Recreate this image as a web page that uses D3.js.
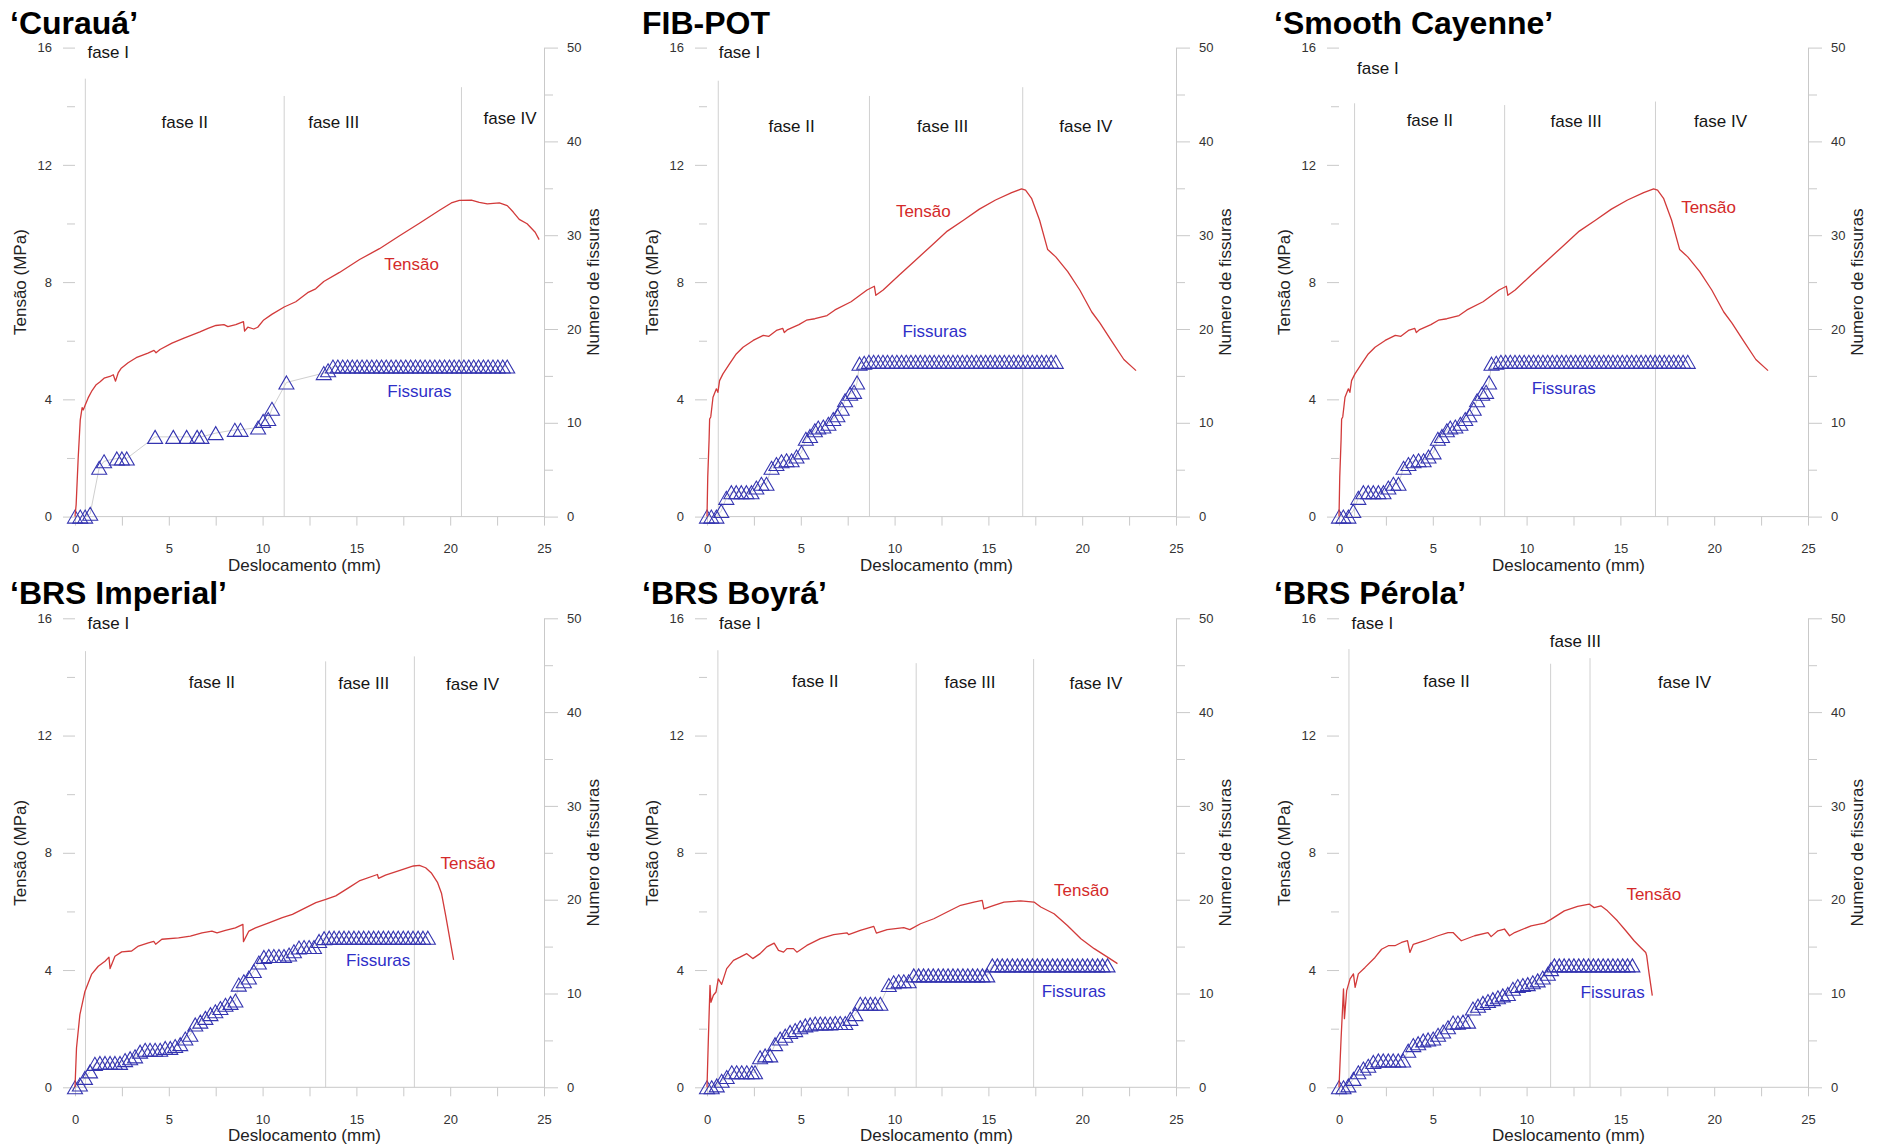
<!DOCTYPE html>
<html><head><meta charset="utf-8">
<script src="https://cdn.jsdelivr.net/npm/d3@7"></script>
<style>
body{margin:0;background:#fff;}
svg{display:block;font-family:"Liberation Sans",Arial,Helvetica,sans-serif;}
</style>
</head><body>
<svg id="chart" width="1881" height="1148"></svg>
<script>
// ---------------- DATA ----------------
const panelTitles = ["\u2018Curau\u00e1\u2019", "FIB-POT", "\u2018Smooth Cayenne\u2019",
                     "\u2018BRS Imperial\u2019", "\u2018BRS Boyr\u00e1\u2019", "\u2018BRS P\u00e9rola\u2019"];
const xTicks = [0, 5, 10, 15, 20, 25];
const xMinorTicks = [2.5, 7.5, 12.5, 17.5, 22.5];
const leftTicks = [0, 4, 8, 12, 16];
const leftMinorTicks = [2, 6, 10, 14];
const rightTicks = [0, 10, 20, 30, 40, 50];
const rightMinorTicks = [5, 15, 25, 35, 45];
const phaseNames = ["fase I", "fase II", "fase III", "fase IV"];
const xTitle = "Deslocamento (mm)";
const yLeftTitle = "Tens\u00e3o (MPa)";
const yRightTitle = "Numero de fissuras";
const tensaoLabel = "Tens\u00e3o";
const fissurasLabel = "Fissuras";

// Tensão curves: [deslocamento mm, tensão MPa]
const tensaoCuraua = [[0,0],[0.06,0.4],[0.17,2.0],[0.28,3.3],[0.38,3.72],[0.44,3.64],[0.54,3.8],[0.7,4.05],[0.91,4.3],[1.13,4.5],[1.34,4.6],[1.55,4.72],[1.86,4.78],[2.04,4.84],[2.16,4.62],[2.3,4.9],[2.45,5.05],[2.83,5.25],[3.26,5.42],[3.89,5.58],[4.21,5.67],[4.32,5.59],[4.53,5.7],[5.17,5.92],[5.81,6.09],[6.66,6.3],[7.09,6.42],[7.51,6.52],[7.94,6.55],[8.15,6.48],[8.57,6.55],[8.98,6.65],[9.04,6.33],[9.21,6.46],[9.53,6.4],[9.74,6.46],[10.06,6.71],[10.49,6.9],[11.15,7.15],[11.77,7.33],[12.4,7.64],[12.83,7.77],[13.26,8.02],[14.1,8.33],[15.17,8.77],[16.23,9.14],[17.3,9.58],[18.36,10.01],[19.43,10.45],[20.06,10.7],[20.49,10.79],[21.13,10.8],[21.55,10.72],[21.98,10.67],[22.62,10.7],[23.04,10.61],[23.36,10.39],[23.68,10.14],[24.1,9.99],[24.53,9.7],[24.74,9.45]];
const tensaoFibPot = [[0,0],[0.04,1.35],[0.11,2.6],[0.14,3.33],[0.2,3.4],[0.32,4.07],[0.5,4.36],[0.58,4.24],[0.67,4.64],[0.85,4.87],[1.2,5.21],[1.56,5.55],[1.92,5.78],[2.46,6.01],[3.0,6.18],[3.3,6.15],[3.7,6.35],[4.04,6.42],[4.12,6.28],[4.3,6.38],[4.9,6.55],[5.3,6.7],[5.75,6.75],[6.4,6.86],[6.82,7.05],[7.68,7.33],[8.53,7.73],[8.92,7.86],[9.0,7.55],[9.39,7.73],[10.25,8.24],[11.1,8.74],[11.96,9.24],[12.81,9.74],[13.67,10.11],[14.52,10.49],[15.38,10.8],[16.24,11.05],[16.77,11.18],[16.98,11.14],[17.3,10.86],[17.73,10.11],[18.16,9.11],[18.59,8.86],[19.23,8.36],[19.87,7.73],[20.51,6.98],[20.94,6.61],[21.58,5.98],[22.22,5.36],[22.87,4.98]];
const tensaoSmooth = [[0,0],[0.04,1.35],[0.11,2.6],[0.14,3.33],[0.2,3.4],[0.32,4.07],[0.5,4.36],[0.58,4.24],[0.67,4.64],[0.85,4.87],[1.2,5.21],[1.56,5.55],[1.92,5.78],[2.46,6.01],[3.0,6.18],[3.3,6.15],[3.7,6.35],[4.04,6.42],[4.12,6.28],[4.3,6.38],[4.9,6.55],[5.3,6.7],[5.75,6.75],[6.4,6.86],[6.82,7.05],[7.68,7.33],[8.53,7.73],[8.92,7.86],[9.0,7.55],[9.39,7.73],[10.25,8.24],[11.1,8.74],[11.96,9.24],[12.81,9.74],[13.67,10.11],[14.52,10.49],[15.38,10.8],[16.24,11.05],[16.77,11.18],[16.98,11.14],[17.3,10.86],[17.73,10.11],[18.16,9.11],[18.59,8.86],[19.23,8.36],[19.87,7.73],[20.51,6.98],[20.94,6.61],[21.58,5.98],[22.22,5.36],[22.87,4.98]];
const tensaoImperial = [[0,0],[0.08,1.34],[0.26,2.48],[0.53,3.27],[0.88,3.85],[1.24,4.13],[1.6,4.3],[1.81,4.44],[1.87,4.05],[2.13,4.47],[2.49,4.62],[3.02,4.65],[3.38,4.82],[3.91,4.93],[4.2,4.98],[4.3,4.88],[4.63,5.05],[5.52,5.1],[6.15,5.16],[6.77,5.27],[7.3,5.33],[7.57,5.27],[8.02,5.35],[8.55,5.44],[8.95,5.56],[8.98,4.97],[9.27,5.33],[9.62,5.44],[10.33,5.61],[11.05,5.79],[11.59,5.9],[12.12,6.07],[12.84,6.3],[13.37,6.41],[13.9,6.53],[14.62,6.82],[15.15,7.04],[16.12,7.26],[16.18,7.13],[16.55,7.24],[17.4,7.42],[18.04,7.55],[18.36,7.57],[18.69,7.49],[19.01,7.3],[19.33,6.98],[19.54,6.61],[19.76,5.86],[19.97,5.1],[20.18,4.35]];
const tensaoBoyra = [[0,0],[0.07,1.6],[0.16,3.48],[0.21,2.9],[0.34,3.14],[0.48,3.25],[0.6,3.7],[0.78,3.51],[1.05,4.05],[1.41,4.33],[1.76,4.44],[2.12,4.56],[2.44,4.39],[2.83,4.56],[3.19,4.79],[3.58,4.92],[3.81,4.67],[4.08,4.61],[4.26,4.73],[4.61,4.73],[4.79,4.61],[5.32,4.84],[6.04,5.07],[6.75,5.21],[7.46,5.27],[7.55,5.21],[8.17,5.35],[8.89,5.49],[9.03,5.26],[9.6,5.38],[10.49,5.45],[10.81,5.38],[11.38,5.58],[12.09,5.75],[12.8,5.98],[13.52,6.21],[14.23,6.32],[14.67,6.38],[14.76,6.09],[15.3,6.21],[15.83,6.32],[16.72,6.36],[17.43,6.32],[17.79,6.15],[18.5,5.92],[19.21,5.52],[19.93,5.07],[20.64,4.73],[21.35,4.44],[21.88,4.22]];
const tensaoPerola = [[0,0],[0.11,1.65],[0.24,3.36],[0.29,2.34],[0.41,3.3],[0.59,3.7],[0.77,3.87],[0.86,3.41],[1.03,3.87],[1.39,4.09],[1.92,4.43],[2.27,4.71],[2.63,4.83],[2.98,4.83],[3.33,4.94],[3.65,5.0],[3.78,4.6],[3.96,4.88],[4.57,5.0],[5.28,5.17],[5.81,5.28],[6.08,5.28],[6.34,5.11],[6.52,5.0],[7.23,5.17],[7.94,5.28],[8.11,5.14],[8.47,5.34],[8.82,5.4],[9.09,5.17],[9.36,5.28],[10.24,5.51],[10.95,5.6],[11.3,5.73],[12.01,6.02],[12.72,6.17],[13.34,6.25],[13.6,6.13],[13.96,6.19],[14.31,6.02],[14.84,5.68],[15.29,5.34],[15.73,5.0],[16.08,4.77],[16.35,4.6],[16.4,4.49],[16.52,3.92],[16.7,3.13]];

// Fissuras: [deslocamento mm, número de fissuras]
const fissurasCuraua = [[0,0],[0.28,0],[0.54,0],[0.81,0.3],[1.29,5.2],[1.55,5.9],[2.23,6.2],[2.5,6.2],[2.76,6.2],[4.27,8.5],[5.24,8.5],[5.95,8.5],[6.51,8.5],[6.74,8.5],[7.5,8.9],[8.52,9.25],[8.82,9.25],[9.76,9.5],[10.03,10.2],[10.3,10.4],[10.5,11.5],[11.27,14.3],[13.26,15.3],[13.49,15.6],
 [13.75,16],[14.01,16],[14.27,16],[14.53,16],[14.78,16],[15.04,16],[15.30,16],[15.56,16],[15.82,16],[16.08,16],[16.34,16],[16.59,16],[16.85,16],[17.11,16],[17.37,16],[17.63,16],[17.89,16],[18.15,16],[18.40,16],[18.66,16],[18.92,16],[19.18,16],[19.44,16],[19.70,16],[19.96,16],[20.21,16],[20.47,16],[20.73,16],[20.99,16],[21.25,16],[21.51,16],[21.77,16],[22.02,16],[22.28,16],[22.54,16],[22.80,16],[23.04,16]];
const fissurasFibPot = [[0,0],[0.23,0],[0.5,0],[0.76,0.6],[1.03,2.0],[1.3,2.6],[1.56,2.6],[1.83,2.6],[2.1,2.6],[2.37,2.6],[2.63,3.1],[2.9,3.5],[3.17,3.5],[3.44,5.2],[3.7,5.6],[3.97,5.9],[4.24,6.0],[4.51,6.0],[4.77,6.4],[5.04,6.85],[5.27,8.3],[5.49,8.6],[5.75,9.2],[5.93,9.5],[6.2,9.6],[6.47,9.9],[6.73,10.4],[6.95,10.8],[7.18,11.5],[7.36,12.4],[7.63,13.1],[7.84,13.3],[8.0,14.3],
 [8.13,16.3],[8.38,16.4],[8.63,16.5],[8.88,16.5],[9.13,16.5],[9.38,16.5],[9.62,16.5],[9.87,16.5],[10.12,16.5],[10.37,16.5],[10.62,16.5],[10.87,16.5],[11.12,16.5],[11.37,16.5],[11.62,16.5],[11.87,16.5],[12.11,16.5],[12.36,16.5],[12.61,16.5],[12.86,16.5],[13.11,16.5],[13.36,16.5],[13.61,16.5],[13.86,16.5],[14.11,16.5],[14.36,16.5],[14.60,16.5],[14.85,16.5],[15.10,16.5],[15.35,16.5],[15.60,16.5],[15.85,16.5],[16.10,16.5],[16.35,16.5],[16.60,16.5],[16.85,16.5],[17.09,16.5],[17.34,16.5],[17.59,16.5],[17.84,16.5],[18.09,16.5],[18.34,16.5],[18.59,16.5]];
const fissurasSmooth = [[0,0],[0.23,0],[0.5,0],[0.76,0.6],[1.03,2.0],[1.3,2.6],[1.56,2.6],[1.83,2.6],[2.1,2.6],[2.37,2.6],[2.63,3.1],[2.9,3.5],[3.17,3.5],[3.44,5.2],[3.7,5.6],[3.97,5.9],[4.24,6.0],[4.51,6.0],[4.77,6.4],[5.04,6.85],[5.27,8.3],[5.49,8.6],[5.75,9.2],[5.93,9.5],[6.2,9.6],[6.47,9.9],[6.73,10.4],[6.95,10.8],[7.18,11.5],[7.36,12.4],[7.63,13.1],[7.84,13.3],[8.0,14.3],
 [8.13,16.3],[8.38,16.4],[8.63,16.5],[8.88,16.5],[9.13,16.5],[9.38,16.5],[9.62,16.5],[9.87,16.5],[10.12,16.5],[10.37,16.5],[10.62,16.5],[10.87,16.5],[11.12,16.5],[11.37,16.5],[11.62,16.5],[11.87,16.5],[12.11,16.5],[12.36,16.5],[12.61,16.5],[12.86,16.5],[13.11,16.5],[13.36,16.5],[13.61,16.5],[13.86,16.5],[14.11,16.5],[14.36,16.5],[14.60,16.5],[14.85,16.5],[15.10,16.5],[15.35,16.5],[15.60,16.5],[15.85,16.5],[16.10,16.5],[16.35,16.5],[16.60,16.5],[16.85,16.5],[17.09,16.5],[17.34,16.5],[17.59,16.5],[17.84,16.5],[18.09,16.5],[18.34,16.5],[18.59,16.5]];
const fissurasImperial = [[0,0],[0.26,0.3],[0.53,1.0],[0.8,1.7],[1.06,2.5],[1.33,2.6],[1.6,2.6],[1.87,2.6],[2.13,2.6],[2.4,2.6],[2.67,2.9],[2.94,3.1],[3.2,3.3],[3.47,3.8],[3.74,4.0],[4.0,4.0],[4.27,4.0],[4.54,4.0],[4.81,4.2],[5.08,4.2],[5.34,4.4],[5.61,4.6],[5.88,5.2],[6.15,5.6],[6.41,6.7],[6.68,7.0],[6.95,7.4],[7.22,7.8],[7.48,8.1],[7.75,8.45],[8.02,8.8],[8.29,9.0],[8.55,9.25],[8.73,10.95],[9.0,11.3],[9.27,11.7],[9.53,12.4],[9.8,13.3],[10.07,13.9],[10.33,14.0],[10.6,14.0],[10.87,14.0],[11.14,14.0],[11.41,14.15],[11.67,14.5],[11.94,14.9],[12.21,14.95],[12.48,14.95],[12.74,14.95],[13.01,15.6],[13.28,15.9],
 [13.55,15.95],[13.81,15.95],[14.08,15.95],[14.34,15.95],[14.60,15.95],[14.87,15.95],[15.13,15.95],[15.39,15.95],[15.66,15.95],[15.92,15.95],[16.18,15.95],[16.44,15.95],[16.71,15.95],[16.97,15.95],[17.23,15.95],[17.50,15.95],[17.76,15.95],[18.02,15.95],[18.29,15.95],[18.55,15.95],[18.81,15.95]];
const fissurasBoyra = [[0,0],[0.25,0],[0.52,0.2],[0.78,0.7],[1.05,1.1],[1.32,1.6],[1.58,1.6],[1.85,1.6],[2.12,1.6],[2.39,1.6],[2.56,1.6],[2.83,3.2],[3.1,3.4],[3.37,3.4],[3.63,4.6],[3.9,5.2],[4.17,5.5],[4.43,5.9],[4.7,6.1],[4.97,6.4],[5.24,6.6],[5.5,6.7],[5.77,6.8],[6.04,6.8],[6.3,6.8],[6.57,6.8],[6.84,6.85],[7.1,6.85],[7.37,6.85],[7.64,7.3],[7.91,7.8],[8.17,8.9],[8.44,8.9],[8.71,8.9],[8.97,8.9],[9.24,8.9],[9.69,10.9],[9.95,11.2],[10.22,11.3],[10.49,11.3],[10.75,11.3],
 [11.02,11.93],[11.28,11.93],[11.54,11.93],[11.80,11.93],[12.06,11.93],[12.33,11.93],[12.59,11.93],[12.85,11.93],[13.11,11.93],[13.37,11.93],[13.64,11.93],[13.90,11.93],[14.16,11.93],[14.42,11.93],[14.68,11.93],[14.94,11.93],
 [15.21,13],[15.48,13],[15.74,13],[16.01,13],[16.28,13],[16.55,13],[16.81,13],[17.08,13],[17.35,13],[17.61,13],[17.88,13],[18.15,13],[18.42,13],[18.68,13],[18.95,13],[19.22,13],[19.48,13],[19.75,13],[20.02,13],[20.28,13],[20.55,13],[20.82,13],[21.08,13],[21.35,13]];
const fissurasPerola = [[0,0],[0.24,0],[0.5,0.2],[0.77,0.9],[1.03,1.6],[1.3,2.0],[1.56,2.3],[1.83,2.7],[2.1,2.86],[2.36,2.86],[2.63,2.86],[2.89,2.86],[3.16,2.86],[3.42,2.86],[3.69,3.9],[3.96,4.5],[4.22,4.7],[4.49,5.0],[4.75,5.1],[5.02,5.2],[5.28,5.6],[5.55,5.95],[5.81,6.4],[6.08,6.9],[6.34,6.9],[6.61,7.0],[6.88,7.0],[7.14,8.4],[7.41,8.7],[7.67,9.0],[7.94,9.2],[8.2,9.4],[8.47,9.6],[8.73,9.8],[9.0,9.95],[9.27,10.5],[9.53,10.8],[9.8,10.9],[10.06,11.0],[10.33,11.2],[10.59,11.4],[10.86,11.7],[11.13,12.1],[11.3,12.6],
 [11.48,13],[11.74,13],[12.00,13],[12.26,13],[12.52,13],[12.78,13],[13.04,13],[13.30,13],[13.56,13],[13.82,13],[14.08,13],[14.34,13],[14.60,13],[14.86,13],[15.12,13],[15.38,13],[15.64,13]];

// Phase boundaries: [deslocamento mm, top of line in MPa]
const fasesCuraua   = [[0.55,14.94],[11.15,14.35],[20.6,14.65]];
const fasesFibPot   = [[0.6,14.87],[8.66,14.35],[16.83,14.65]];
const fasesSmooth   = [[0.83,14.1],[8.83,14.04],[16.87,14.16]];
const fasesImperial = [[0.56,14.88],[13.36,14.53],[18.09,14.7]];
const fasesBoyra    = [[0.58,14.91],[11.15,14.47],[17.41,14.61]];
const fasesPerola   = [[0.53,14.95],[11.28,14.45],[13.38,14.64]];

// Annotation anchors (data units): phase labels I..IV, "Tensão", "Fissuras"
const rotulosCuraua   = [[1.77,15.84],[5.85,13.47],[13.79,13.47],[23.19,13.59]];
const rotulosFibPot   = [[1.73,15.84],[4.51,13.31],[12.56,13.34],[20.19,13.31]];
const rotulosSmooth   = [[2.07,15.29],[4.84,13.54],[12.64,13.5],[20.34,13.48]];
const rotulosImperial = [[1.78,15.85],[7.3,13.84],[15.39,13.78],[21.19,13.76]];
const rotulosBoyra    = [[1.75,15.85],[5.77,13.86],[14.02,13.81],[20.73,13.79]];
const rotulosPerola   = [[1.78,15.85],[5.73,13.87],[12.6,15.24],[18.42,13.82]];
const tensaoLabelPos   = [[17.94,8.6],[11.53,10.43],[19.7,10.55],[20.95,7.65],[19.96,6.72],[16.78,6.6]];
const fissurasLabelPos = [[18.36,4.28],[12.13,6.32],[11.98,4.4],[16.16,4.33],[19.55,3.29],[14.59,3.26]];

// ---------------- LAYOUT / STYLE ----------------
const panelLeft = [75, 707, 1339, 75, 707, 1339];
const panelTop  = [47.6, 47.6, 47.6, 618.3, 618.3, 618.3];
const W = 469, H = 469;
const FONT = '"Liberation Sans", Arial, Helvetica, sans-serif';
const GREY = "#c9c9c9";
const RED = "#d23a3a";
const BLUE = "#3434b0";
const BLUE_TXT = "#2f2fc8";

const panels = [
  {title: panelTitles[0], tensao: tensaoCuraua,   fissuras: fissurasCuraua,   fases: fasesCuraua,   rotulos: rotulosCuraua},
  {title: panelTitles[1], tensao: tensaoFibPot,   fissuras: fissurasFibPot,   fases: fasesFibPot,   rotulos: rotulosFibPot},
  {title: panelTitles[2], tensao: tensaoSmooth,   fissuras: fissurasSmooth,   fases: fasesSmooth,   rotulos: rotulosSmooth},
  {title: panelTitles[3], tensao: tensaoImperial, fissuras: fissurasImperial, fases: fasesImperial, rotulos: rotulosImperial},
  {title: panelTitles[4], tensao: tensaoBoyra,    fissuras: fissurasBoyra,    fases: fasesBoyra,    rotulos: rotulosBoyra},
  {title: panelTitles[5], tensao: tensaoPerola,   fissuras: fissurasPerola,   fases: fasesPerola,   rotulos: rotulosPerola}
];

const svg = d3.select("#chart");
svg.append("rect").attr("width",1881).attr("height",1148).attr("fill","#fff");

const triPath = "M0,-6.5L7.5,6.5L-7.5,6.5Z";

function styleAxis(sel, size, color) {
  sel.attr("font-size", size).attr("font-family", FONT);
  sel.selectAll(".tick line").attr("stroke", GREY);
  sel.selectAll(".tick text").attr("fill", color);
}

panels.forEach((p, i) => {
  const g = svg.append("g").attr("transform", `translate(${panelLeft[i]},${panelTop[i]})`);
  const x = d3.scaleLinear().domain([0, 25]).range([0, W]);
  const y = d3.scaleLinear().domain([0, 16]).range([H, 0]);
  const y2 = d3.scaleLinear().domain([0, 50]).range([H, 0]);

  // title
  svg.append("text")
    .attr("x", panelLeft[i] - 65).attr("y", panelTop[i] - 14)
    .attr("font-size", 32).attr("font-weight", "bold").attr("fill", "#000")
    .attr("font-family", FONT)
    .text(p.title);

  // phase boundary lines
  g.selectAll("line.fase").data(p.fases).join("line")
    .attr("class", "fase")
    .attr("x1", d => x(d[0])).attr("x2", d => x(d[0]))
    .attr("y1", d => y(d[1])).attr("y2", y(0))
    .attr("stroke", "#d0d0d0").attr("stroke-width", 1);

  // bottom axis line
  g.append("line").attr("x1", 0).attr("x2", W).attr("y1", H).attr("y2", H)
    .attr("stroke", GREY);

  // x axis
  const xa = g.append("g").attr("transform", `translate(0,${H})`)
    .call(d3.axisBottom(x).tickValues(xTicks).tickSize(9).tickPadding(18).tickFormat(d3.format("d")));
  xa.select(".domain").remove();
  styleAxis(xa, 13, "#333");
  const xm = g.append("g").attr("transform", `translate(0,${H})`)
    .call(d3.axisBottom(x).tickValues(xMinorTicks).tickSize(9).tickFormat(""));
  xm.select(".domain").remove();
  styleAxis(xm, 13, "#333");

  // left axis
  const la = g.append("g")
    .call(d3.axisLeft(y).tickValues(leftTicks).tickSize(12).tickPadding(11).tickFormat(d3.format("d")));
  la.select(".domain").remove();
  styleAxis(la, 13, "#333");
  const lm = g.append("g").call(d3.axisLeft(y).tickValues(leftMinorTicks).tickSize(8).tickFormat(""));
  lm.select(".domain").remove();
  styleAxis(lm, 13, "#333");

  // right axis
  const ra = g.append("g").attr("transform", `translate(${W},0)`)
    .call(d3.axisRight(y2).tickValues(rightTicks).tickSize(14).tickPadding(9).tickSizeOuter(0).tickFormat(d3.format("d")));
  ra.select(".domain").attr("stroke", GREY);
  styleAxis(ra, 13, "#333");
  const rm = g.append("g").attr("transform", `translate(${W},0)`)
    .call(d3.axisRight(y2).tickValues(rightMinorTicks).tickSize(9).tickFormat(""));
  rm.select(".domain").remove();
  styleAxis(rm, 13, "#333");

  // axis titles
  g.append("text").attr("x", W / 2 - 5).attr("y", H + 54)
    .attr("text-anchor", "middle").attr("font-size", 17).attr("fill", "#222")
    .attr("font-family", FONT).text(xTitle);
  g.append("text").attr("transform", `translate(-49,${H / 2}) rotate(-90)`)
    .attr("text-anchor", "middle").attr("font-size", 17).attr("fill", "#222")
    .attr("font-family", FONT).text(yLeftTitle);
  g.append("text").attr("transform", `translate(${W + 55},${H / 2}) rotate(-90)`)
    .attr("text-anchor", "middle").attr("font-size", 17).attr("fill", "#222")
    .attr("font-family", FONT).text(yRightTitle);

  // fissuras connector + triangles
  g.append("path").datum(p.fissuras)
    .attr("fill", "none").attr("stroke", "#cfcfcf").attr("stroke-width", 1)
    .attr("d", d3.line().x(d => x(d[0])).y(d => y2(d[1])));
  g.selectAll("path.tri").data(p.fissuras).join("path")
    .attr("class", "tri")
    .attr("transform", d => `translate(${x(d[0])},${y2(d[1])})`)
    .attr("d", triPath)
    .attr("fill", "none").attr("stroke", BLUE).attr("stroke-width", 1.1);

  // tensão line
  g.append("path").datum(p.tensao)
    .attr("fill", "none").attr("stroke", RED).attr("stroke-width", 1.3)
    .attr("stroke-linejoin", "round")
    .attr("d", d3.line().x(d => x(d[0])).y(d => y(d[1])));

  // phase labels
  g.selectAll("text.fl").data(p.rotulos).join("text")
    .attr("class", "fl")
    .attr("x", d => x(d[0])).attr("y", d => y(d[1]))
    .attr("dy", "0.35em").attr("text-anchor", "middle")
    .attr("font-size", 17).attr("fill", "#151515").attr("font-family", FONT)
    .text((d, k) => phaseNames[k]);

  // series labels
  g.append("text").attr("x", x(tensaoLabelPos[i][0])).attr("y", y(tensaoLabelPos[i][1]))
    .attr("dy", "0.35em").attr("text-anchor", "middle")
    .attr("font-size", 17).attr("fill", "#d42a2a").attr("font-family", FONT)
    .text(tensaoLabel);
  g.append("text").attr("x", x(fissurasLabelPos[i][0])).attr("y", y(fissurasLabelPos[i][1]))
    .attr("dy", "0.35em").attr("text-anchor", "middle")
    .attr("font-size", 17).attr("fill", BLUE_TXT).attr("font-family", FONT)
    .text(fissurasLabel);
});
</script>
</body></html>
